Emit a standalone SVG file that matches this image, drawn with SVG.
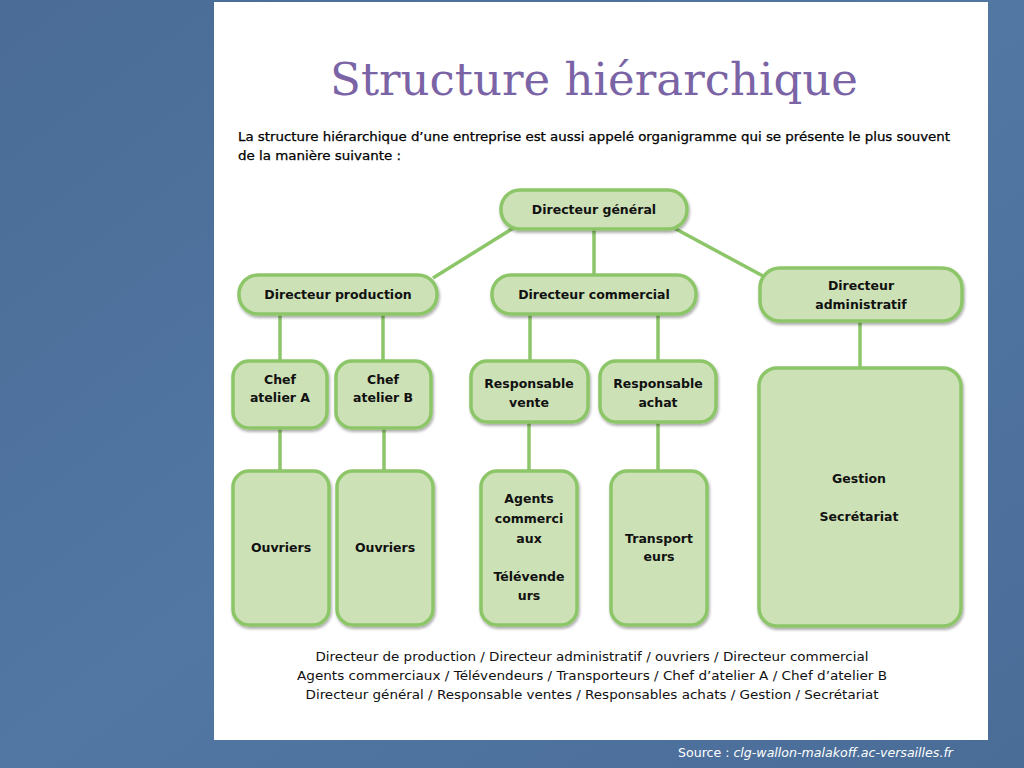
<svg xmlns="http://www.w3.org/2000/svg" width="1024" height="768" viewBox="0 0 1024 768">
<defs>
<linearGradient id="bg" x1="0" y1="0" x2="1" y2="1">
<stop offset="0" stop-color="#4a6c96"/>
<stop offset="0.5" stop-color="#5177a2"/>
<stop offset="1" stop-color="#4a6d98"/>
</linearGradient>
<filter id="sh" x="-10%" y="-10%" width="125%" height="130%">
<feGaussianBlur in="SourceAlpha" stdDeviation="1.5"/>
<feOffset dx="1" dy="2" result="b"/>
<feComponentTransfer><feFuncA type="linear" slope="0.35"/></feComponentTransfer>
<feMerge><feMergeNode/><feMergeNode in="SourceGraphic"/></feMerge>
</filter>
<style>
.n rect{fill:#cde1b6;stroke:#8cc668;stroke-width:3.5;filter:url(#sh)}
.n text{font-family:"DejaVu Sans",Verdana,sans-serif;font-weight:bold;font-size:12.5px;fill:#111;text-anchor:middle}
.c line{stroke:#8cc668;stroke-width:3.5}
.p{font-family:"DejaVu Sans",Tahoma,sans-serif;font-size:12px;fill:#000;stroke:#000;stroke-width:0.25}
.b{font-family:"DejaVu Sans",Tahoma,sans-serif;font-size:12px;fill:#111;text-anchor:middle}
</style>
</defs>
<rect x="0" y="0" width="1024" height="768" fill="url(#bg)"/>
<rect x="214" y="2" width="774" height="738" fill="#ffffff"/>
<text x="594" y="95" font-family="'DejaVu Serif','Liberation Serif',serif" font-size="44" fill="#7b64a6" text-anchor="middle" textLength="528" lengthAdjust="spacingAndGlyphs">Structure hiérarchique</text>
<text class="p" x="238" y="141" textLength="712" lengthAdjust="spacingAndGlyphs">La structure hiérarchique d’une entreprise est aussi appelé organigramme qui se présente le plus souvent</text>
<text class="p" x="238" y="160" textLength="163" lengthAdjust="spacingAndGlyphs">de la manière suivante :</text>
<g class="c">
<line x1="515" y1="227" x2="433" y2="278"/>
<line x1="594" y1="229" x2="594" y2="275"/>
<line x1="674" y1="228" x2="763" y2="276"/>
<line x1="280" y1="314" x2="280" y2="361"/>
<line x1="383" y1="314" x2="383" y2="361"/>
<line x1="530" y1="314" x2="530" y2="361"/>
<line x1="658" y1="314" x2="658" y2="361"/>
<line x1="860" y1="321" x2="860" y2="368"/>
<line x1="280" y1="428" x2="280" y2="471"/>
<line x1="384" y1="428" x2="384" y2="471"/>
<line x1="529" y1="422" x2="529" y2="471"/>
<line x1="658" y1="422" x2="658" y2="471"/>
</g>
<g id="dg" class="n"><rect x="501" y="190" width="186" height="39" rx="19"/><text x="594" y="214">Directeur général</text></g>
<g id="dp" class="n"><rect x="239" y="275" width="198" height="39" rx="19"/><text x="338" y="299">Directeur production</text></g>
<g id="dc" class="n"><rect x="492" y="275" width="204" height="39" rx="19"/><text x="594" y="299">Directeur commercial</text></g>
<g id="da" class="n"><rect x="760" y="268" width="202" height="53" rx="20"/><text x="861" y="290">Directeur</text><text x="861" y="309">administratif</text></g>
<g id="ca" class="n"><rect x="233" y="361" width="94" height="67" rx="16"/><text x="280" y="384">Chef</text><text x="280" y="402">atelier A</text></g>
<g id="cb" class="n"><rect x="336" y="361" width="95" height="67" rx="16"/><text x="383" y="384">Chef</text><text x="383" y="402">atelier B</text></g>
<g id="rv" class="n"><rect x="471" y="361" width="117" height="61" rx="16"/><text x="529" y="388">Responsable</text><text x="529" y="407">vente</text></g>
<g id="ra" class="n"><rect x="600" y="361" width="116" height="61" rx="16"/><text x="658" y="388">Responsable</text><text x="658" y="407">achat</text></g>
<g id="oa" class="n"><rect x="233" y="471" width="96" height="154" rx="16"/><text x="281" y="552">Ouvriers</text></g>
<g id="ob" class="n"><rect x="337" y="471" width="96" height="154" rx="16"/><text x="385" y="552">Ouvriers</text></g>
<g id="ag" class="n"><rect x="481" y="471" width="96" height="154" rx="16"/><text x="529" y="503">Agents</text><text x="529" y="523">commerci</text><text x="529" y="543">aux</text><text x="529" y="581">Télévende</text><text x="529" y="600">urs</text></g>
<g id="tr" class="n"><rect x="611" y="471" width="96" height="154" rx="16"/><text x="659" y="543">Transport</text><text x="659" y="561">eurs</text></g>
<g id="gs" class="n"><rect x="759" y="368" width="202" height="258" rx="18"/><text x="859" y="483">Gestion</text><text x="859" y="521">Secrétariat</text></g>
<text class="b" x="592" y="661" textLength="553" lengthAdjust="spacingAndGlyphs">Directeur de production / Directeur administratif / ouvriers / Directeur commercial</text>
<text class="b" x="592" y="680" textLength="590" lengthAdjust="spacingAndGlyphs">Agents commerciaux / Télévendeurs / Transporteurs / Chef d’atelier A / Chef d’atelier B</text>
<text class="b" x="592" y="699" textLength="573" lengthAdjust="spacingAndGlyphs">Directeur général / Responsable ventes / Responsables achats / Gestion / Secrétariat</text>
<text x="678" y="757" font-family="'DejaVu Sans Condensed','DejaVu Sans',sans-serif" font-size="13" fill="#ffffff" textLength="275" lengthAdjust="spacingAndGlyphs">Source : <tspan font-style="italic">clg-wallon-malakoff.ac-versailles.fr</tspan></text>
</svg>
